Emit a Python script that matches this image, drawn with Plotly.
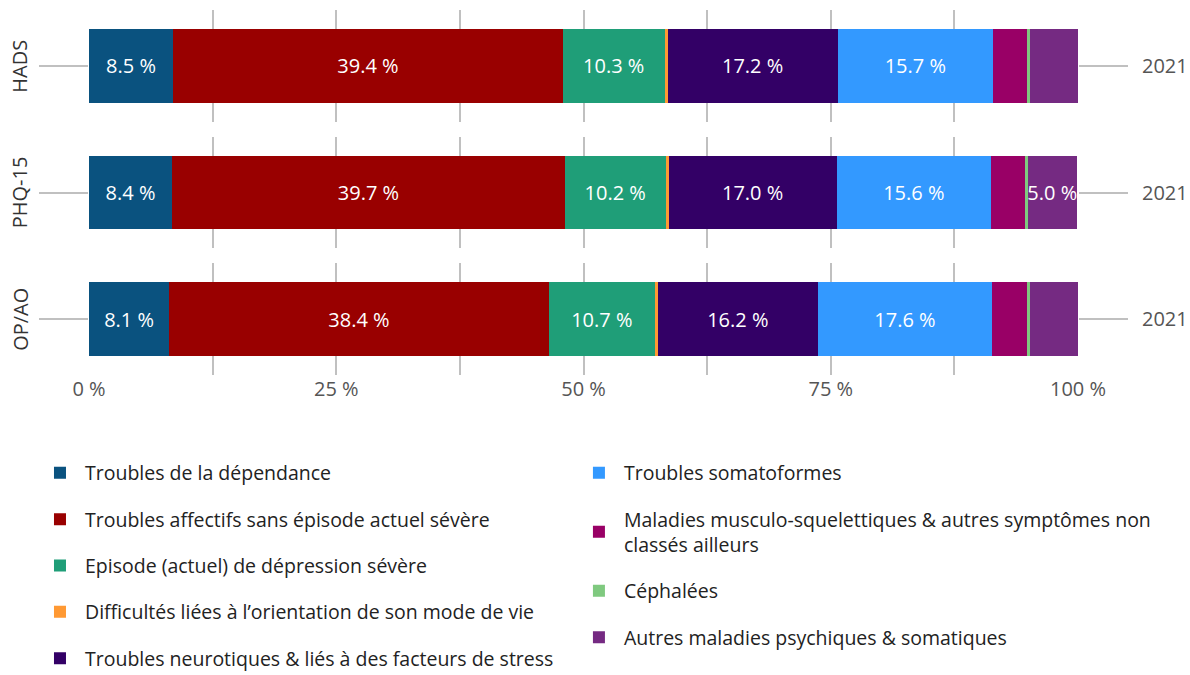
import plotly.graph_objects as go
from plotly.subplots import make_subplots

facets = ["HADS", "PHQ-15", "OP/AO"]
year = "2021"
categories = [
    "Troubles de la dépendance",
    "Troubles affectifs sans épisode actuel sévère",
    "Episode (actuel) de dépression sévère",
    "Difficultés liées à l’orientation de son mode de vie",
    "Troubles neurotiques & liés à des facteurs de stress",
    "Troubles somatoformes",
    "Maladies musculo-squelettiques & autres symptômes non<br>classés ailleurs",
    "Céphalées",
    "Autres maladies psychiques & somatiques",
]
colors = ["#0a527f", "#990000", "#1f9e78", "#ff9933", "#330066",
          "#3399ff", "#990066", "#7fc97f", "#752a82"]
# values per facet, in category order
hads = [8.5, 39.4, 10.3, 0.3, 17.2, 15.7, 3.4, 0.3, 4.9]
phq15 = [8.4, 39.7, 10.2, 0.3, 17.0, 15.6, 3.4, 0.3, 5.0]
opao = [8.1, 38.4, 10.7, 0.3, 16.2, 17.6, 3.5, 0.3, 4.9]
values = [hads, phq15, opao]

FONT = "Open Sans"
GRID = "#c0c0c0"

fig = make_subplots(rows=3, cols=1, shared_xaxes=True, vertical_spacing=0.04)

for r, (facet, vals) in enumerate(zip(facets, values), start=1):
    for i, (cat, col) in enumerate(zip(categories, colors)):
        v = vals[i]
        fig.add_trace(go.Bar(
            x=[v], y=[year], orientation="h",
            name=cat, marker=dict(color=col, line=dict(width=0)),
            width=0.66,
            text=[f"{v:.1f} %" if v >= 5 else ""],
            textposition="inside", insidetextanchor="middle",
            constraintext="none", textangle=0,
            textfont=dict(color="white", size=20, family=FONT),
            legendgroup=f"g{i}", showlegend=(r == 1),
            legend="legend" if i < 5 else "legend2",
            hovertemplate=f"{facet}<br>{cat}: %{{x:.1f}} %<extra></extra>",
        ), row=r, col=1)
    yref = "y domain" if r == 1 else f"y{r} domain"
    fig.add_annotation(text=facet, xref="paper", yref=yref, x=-0.07, y=0.5,
                       xanchor="center", yanchor="middle",
                       textangle=-90, showarrow=False,
                       font=dict(size=20, color="#333", family=FONT))

for r in range(1, 4):
    fig.update_yaxes(type="category", categoryarray=[year], side="right",
                     ticks="outside", ticklen=49, tickwidth=2, tickcolor=GRID,
                     mirror="ticks", showline=False, showgrid=False,
                     ticklabelstandoff=10, automargin=False,
                     tickfont=dict(size=20, color="#555", family=FONT),
                     row=r, col=1)
    fig.update_xaxes(range=[0, 100], dtick=25, tick0=0, ticksuffix=" %",
                     showgrid=True, gridcolor=GRID, gridwidth=2,
                     minor=dict(dtick=12.5, showgrid=True, gridcolor=GRID, gridwidth=2),
                     zeroline=False, showline=False, ticks="", automargin=False,
                     tickfont=dict(size=20, color="#555", family=FONT),
                     row=r, col=1)

legend_common = dict(
    orientation="v", yanchor="top", xanchor="left",
    xref="container", yref="container",
    font=dict(size=19.5, color="#222", family=FONT),
    tracegroupgap=18, itemwidth=40, bgcolor="rgba(0,0,0,0)",
    traceorder="grouped",
)
fig.update_layout(
    barmode="stack",
    width=1190, height=675,
    margin=dict(l=89, r=112, t=10, b=300, autoexpand=False),
    paper_bgcolor="white", plot_bgcolor="white",
    font=dict(family=FONT),
    legend=dict(x=0.0294, y=0.328, **legend_common),
    legend2=dict(x=0.4823, y=0.328, **legend_common),
)

fig.write_html("out.html", config={"displayModeBar": False},
               post_script="document.body.style.margin='0';document.body.style.overflow='hidden';")
